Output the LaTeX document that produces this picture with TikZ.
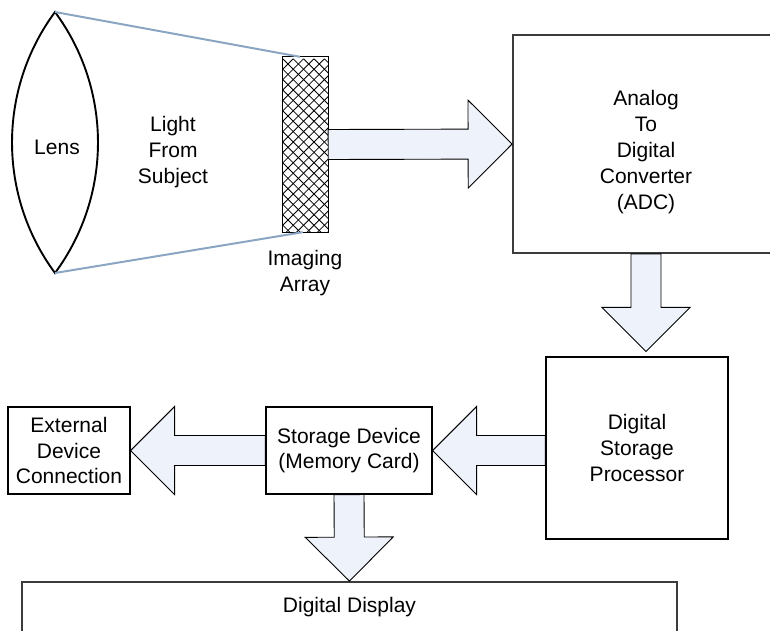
\documentclass[tikz,border=0pt]{standalone}
\usepackage{fontspec}
\setmainfont{Liberation Sans}
\usetikzlibrary{calc}

\definecolor{arrowfill}{RGB}{238,242,251}
\definecolor{raycol}{RGB}{138,166,194}
\definecolor{framegray}{RGB}{60,60,60}

% Block arrow from point #1 to tip #2: shaft half-width 15, head half-width 44, head length 44
\newcommand\fatarrow[2]{%
  \path (#1) coordinate (fa) (#2) coordinate (fz) ($(fz)!44pt!(fa)$) coordinate (fm);
  \draw[blockarrow] ($(fa)!15pt!90:(fz)$) -- ($(fm)!15pt!-90:(fa)$) -- ($(fm)!44pt!-90:(fa)$)
    -- (fz) -- ($(fm)!44pt!90:(fa)$) -- ($(fm)!15pt!90:(fa)$) -- ($(fa)!15pt!-90:(fz)$) -- cycle;}

\begin{document}
\begin{tikzpicture}[x=1pt,y=-1pt,
  every node/.style={font=\fontsize{21}{25.8}\selectfont, align=center, inner sep=0pt},
  blockbox/.style={draw=black, line width=1.2pt, rectangle},
  graybox/.style={draw=framegray, line width=1.8pt, rectangle},
  blockarrow/.style={draw=black, line width=0.9pt, fill=arrowfill, line join=miter},
  rayline/.style={draw=raycol, line width=2pt},
  lensline/.style={draw=black, line width=1.9pt, line join=miter},
  hatchline/.style={draw=black, line width=0.8pt}]

\clip (0,0) rectangle (770,630);

% optics: lens, light rays and the imaging array
\coordinate (lenstop) at (55,12);
\coordinate (lensbot) at (55,273);
\node[minimum width=45pt, minimum height=175pt] (array) at (305.5,144.5) {};
\begin{scope}
  \clip (array.south west) rectangle (array.north east);
  \foreach \k in {-20,...,25} {
    \draw[hatchline] ($(array.north west)+(\k*10.4,2)$) -- ++(200,200);
    \draw[hatchline] ($(array.north west)+(\k*10.4,2)$) -- ++(-200,200);
  }
\end{scope}
\draw[draw=black, line width=1.2pt] (array.south west) rectangle (array.north east);

\draw[lensline] (lenstop) .. controls (-2.3,89.5) and (-2.3,195.5) .. (lensbot)
  .. controls (112.3,195.5) and (112.3,89.5) .. (lenstop) -- cycle;
\draw[rayline] (lenstop) -- ($(array.north west)!0.38!(array.north east)$);
\draw[rayline] (lensbot) -- ($(array.south west)!0.44!(array.south east)$);

\node (lenslbl) at (57,147) {Lens};
\node (light) at (173,152) {Light\\From\\Subject};
\node (imglbl) at (305,273) {Imaging\\Array};

% processing blocks
\node[graybox, minimum width=266pt, minimum height=218pt,
  label={[name=adclbl, yshift=-8pt]center:{Analog\\To\\Digital\\Converter\\(ADC)}}]
  (adc) at (646,144) {};
\node[blockbox, minimum width=182pt, minimum height=182pt] (dsp) at (637,448)
  {Digital\\Storage\\Processor};
\node[blockbox, minimum width=166pt, minimum height=87pt] (stor) at (349,450.5)
  {Storage Device\\(Memory Card)};
\node[blockbox, minimum width=122pt, minimum height=87pt] (ext) at (69,450.5)
  {External\\Device\\Connection};
\node[graybox, minimum width=655pt, minimum height=50pt] (disp) at (349.5,607)
  {Digital Display};

\coordinate (dsptop) at ($(adc.south |- dsp.north)+(0,-5)$);

% data flow
\fatarrow{array.east}{adc.west}
\fatarrow{adc.south}{dsptop}
\fatarrow{dsp.west |- stor.east}{stor.east}
\fatarrow{stor.west}{ext.east}
\fatarrow{stor.south}{disp.north}
\end{tikzpicture}
\end{document}
